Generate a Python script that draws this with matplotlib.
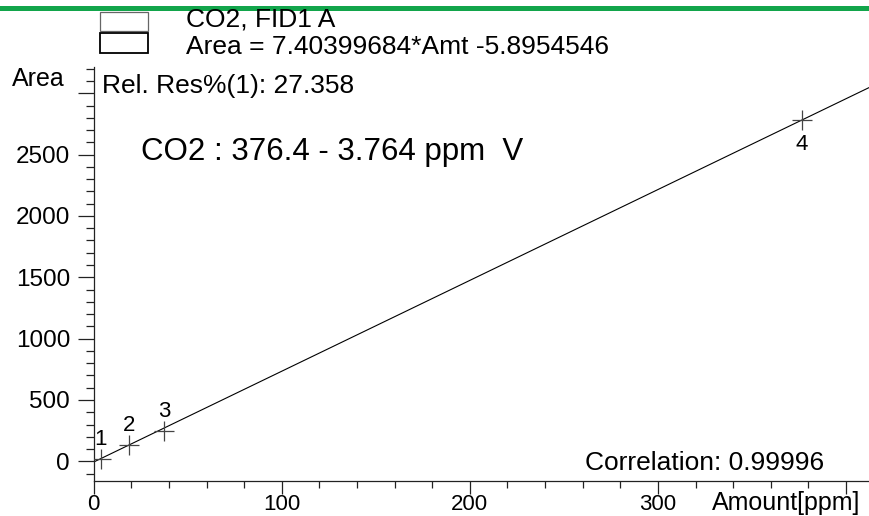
import matplotlib
matplotlib.use("Agg")
import matplotlib.pyplot as plt
from matplotlib.patches import Rectangle
from matplotlib.lines import Line2D
import numpy as np

plt.rcParams['font.family'] = ['Liberation Sans', 'DejaVu Sans']

# ---- data ----
amounts = [3.764, 18.82, 37.64, 376.4]
areas = [20.0, 134.0, 250.0, 2782.0]
point_labels = ["1", "2", "3", "4"]
slope = 7.40399684
intercept = -5.8954546
x_major = [0, 100, 200, 300, 400]
x_major_labels = ["0", "100", "200", "300", ""]
y_major = [0, 500, 1000, 1500, 2000, 2500, 3000]
y_major_labels = ["0", "500", "1000", "1500", "2000", "2500", ""]
legend_lines = ["CO2, FID1 A", "Area = 7.40399684*Amt -5.8954546"]
rel_res = "Rel. Res%(1): 27.358"
title_text = "CO2 : 376.4 - 3.764 ppm  V"
corr_text = "Correlation: 0.99996"
x_label = "Amount[ppm]"
y_label = "Area"

W, H = 869, 516
fig = plt.figure(figsize=(W / 100, H / 100), dpi=100)

def fx(px):
    return px / W

def fy(py):
    return 1 - py / H

ax_left, ax_right, ax_top, ax_bottom = 93.7, 869, 67.5, 480.7
ax = fig.add_axes([fx(ax_left), fy(ax_bottom), fx(ax_right - ax_left), (ax_bottom - ax_top) / H])
ax.set_xlim(0, 412.2)
ax.set_ylim(-158, 3210)

for s in ['top', 'right']:
    ax.spines[s].set_visible(False)
for s in ['left', 'bottom']:
    ax.spines[s].set_linewidth(0.9)
    ax.spines[s].set_color('#222222')

# fit line
xs = np.array(ax.get_xlim())
ax.plot(xs, slope * xs + intercept, color='black', lw=0.8, zorder=2)

# calibration points
ax.plot(amounts, areas, linestyle='none', marker='+', markersize=14,
        markeredgewidth=0.9, color='#444444', zorder=3)
for i, (xv, yv, lab) in enumerate(zip(amounts, areas, point_labels)):
    off = (0, 19) if i < 3 else (0, -24)
    ax.annotate(lab, (xv, yv), xytext=off, textcoords='offset pixels',
                ha='center', va='center', fontsize=16, color='black')

# ticks
ax.set_xticks(x_major)
ax.set_xticklabels(x_major_labels)
ax.set_xticks(np.arange(20, 412, 20), minor=True)
ax.set_yticks(y_major)
ax.set_yticklabels(y_major_labels)
ax.set_yticks(np.arange(-100, 3210, 100), minor=True)
ax.tick_params(axis='x', which='major', direction='out', length=9.4, width=0.9,
               color='#222222', labelsize=16, pad=0.5)
ax.tick_params(axis='x', which='minor', direction='out', length=5, width=0.9, color='#222222')
ax.tick_params(axis='y', which='major', direction='out', length=11.5, width=0.9,
               color='#222222', labelsize=17.5, pad=5.5)
ax.tick_params(axis='y', which='minor', direction='out', length=5.5, width=0.9, color='#222222')

# axis labels
fig.text(fx(12), fy(79), y_label, fontsize=18, ha='left', va='center')
fig.text(fx(712), fy(503), x_label, fontsize=18, ha='left', va='center')

# texts inside
fig.text(fx(102), fy(86), rel_res, fontsize=19, ha='left', va='center')
fig.text(fx(141), fy(152), title_text, fontsize=22.5, ha='left', va='center')
fig.text(fx(585), fy(463), corr_text, fontsize=19, ha='left', va='center')

# header: green line and legend boxes
fig.add_artist(Line2D([0, 1], [fy(7.5), fy(7.5)], transform=fig.transFigure,
                      color='#12a54b', lw=3.6))
fig.add_artist(Rectangle((fx(100), fy(31)), fx(48), (31 - 12) / H, transform=fig.transFigure,
                         fill=False, edgecolor='#666666', lw=0.9))
fig.add_artist(Rectangle((fx(100), fy(53)), fx(48), (53 - 33) / H, transform=fig.transFigure,
                         fill=False, edgecolor='black', lw=1.3))
fig.text(fx(186), fy(20), legend_lines[0], fontsize=19, ha='left', va='center')
fig.text(fx(186), fy(47.5), legend_lines[1], fontsize=19, ha='left', va='center')

fig.savefig("out.png", dpi=100)
